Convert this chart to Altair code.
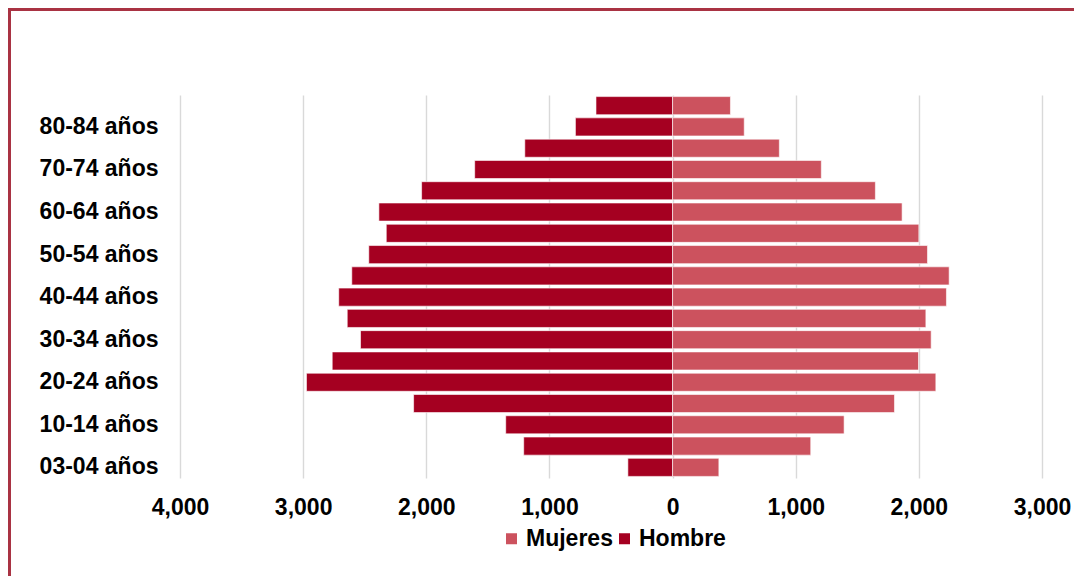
import altair as alt
import pandas as pd

grupos = ["85+ años", "80-84 años", "75-79 años", "70-74 años", "65-69 años",
          "60-64 años", "55-59 años", "50-54 años", "45-49 años", "40-44 años",
          "35-39 años", "30-34 años", "25-29 años", "20-24 años", "15-19 años",
          "10-14 años", "05-09 años", "03-04 años"]
hombre = [622, 789, 1200, 1607, 2038, 2385, 2325, 2467, 2605, 2711,
          2642, 2534, 2764, 2973, 2103, 1355, 1209, 363]
mujeres = [470, 582, 867, 1208, 1647, 1864, 2000, 2070, 2246, 2224,
           2057, 2100, 1997, 2138, 1802, 1393, 1122, 376]
etiquetas_y = ["80-84 años", "70-74 años", "60-64 años", "50-54 años", "40-44 años",
               "30-34 años", "20-24 años", "10-14 años", "03-04 años"]
ticks_x = [-4000, -3000, -2000, -1000, 0, 1000, 2000, 3000]

rows = []
for g, h, m in zip(grupos, hombre, mujeres):
    rows.append({"grupo": g, "sexo": "Hombre", "valor": -h})
    rows.append({"grupo": g, "sexo": "Mujeres", "valor": m})
df = pd.DataFrame(rows)

FONT = "Liberation Sans"
FS = 23

bars = alt.Chart(df).mark_bar(stroke="white", strokeWidth=0.6).encode(
    y=alt.Y("grupo:N", sort=grupos,
            scale=alt.Scale(paddingInner=0.15, paddingOuter=0.075),
            axis=alt.Axis(values=etiquetas_y, title=None, domain=False, ticks=False,
                          labelPadding=22, labelFontSize=FS, labelFont=FONT,
                          labelFontWeight="bold", labelColor="black", grid=False)),
    x=alt.X("valor:Q", scale=alt.Scale(domain=[-4000, 3000], nice=False),
            axis=alt.Axis(values=ticks_x, title=None, domain=False, ticks=False,
                          labelExpr="format(abs(datum.value), ',')", labelFlush=False,
                          labelPadding=18, labelFontSize=FS, labelFont=FONT,
                          labelFontWeight="bold", labelColor="black",
                          grid=True, gridColor="#D9D9D9", gridWidth=1.4)),
    color=alt.Color("sexo:N",
                    scale=alt.Scale(domain=["Mujeres", "Hombre"], range=["#CC525E", "#A50021"]),
                    legend=alt.Legend(title=None, orient="none", direction="horizontal",
                                      legendX=320, legendY=432, symbolType="square",
                                      symbolSize=121, symbolStrokeWidth=0, labelOffset=3,
                                      columnPadding=0, labelFontSize=FS, labelFont=FONT,
                                      labelFontWeight="bold", labelColor="black", padding=0)),
)

border_color = "#A93343"
left_border = alt.Chart(df).mark_rule(color=border_color, strokeWidth=3).encode(
    x=alt.value(-170.5), y=alt.value(-85.5), y2=alt.value(500)
)
top_border = alt.Chart(df).mark_rule(color=border_color, strokeWidth=3).encode(
    x=alt.value(-172), x2=alt.value(900), y=alt.value(-85.5)
)

chart = alt.layer(bars, left_border, top_border).properties(
    width=862, height=383,
    autosize=alt.AutoSizeParams(type="none"),
    padding={"left": 172, "top": 87, "right": 32, "bottom": 98},
).configure_view(stroke=None)

chart.save("out.html", embed_options={"renderer": "svg", "actions": False})
